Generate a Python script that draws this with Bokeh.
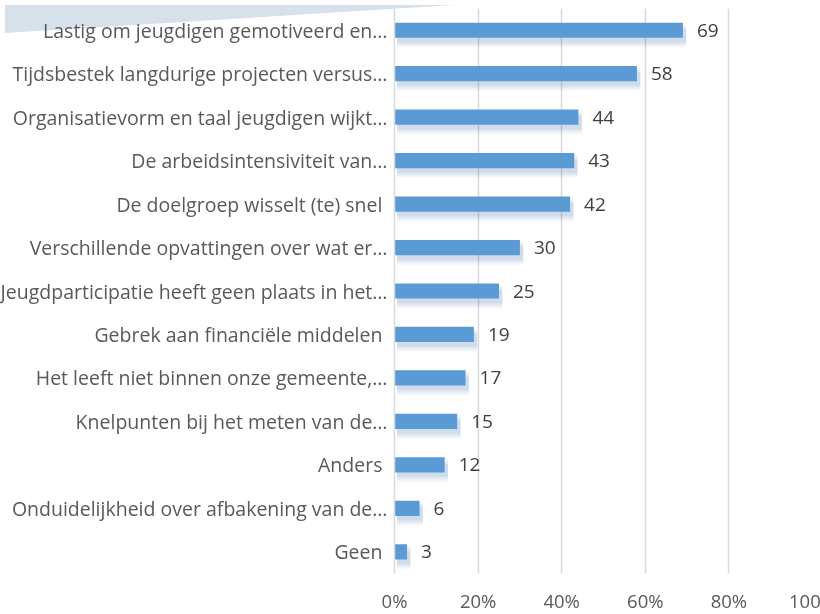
from bokeh.plotting import figure
from bokeh.models import FactorRange, Range1d, FixedTicker, LabelSet, ColumnDataSource, Div
from bokeh.core.properties import value
from bokeh.transform import dodge
from bokeh.embed import file_html
from bokeh.resources import INLINE

categories = [
    "Lastig om jeugdigen gemotiveerd en…",
    "Tijdsbestek langdurige projecten versus…",
    "Organisatievorm en taal jeugdigen wijkt…",
    "De arbeidsintensiviteit van…",
    "De doelgroep wisselt (te) snel\u00a0",
    "Verschillende opvattingen over wat er…",
    "Jeugdparticipatie heeft geen plaats in het…",
    "Gebrek aan financiële middelen\u00a0",
    "Het leeft niet binnen onze gemeente,…",
    "Knelpunten bij het meten van de…",
    "Anders\u00a0",
    "Onduidelijkheid over afbakening van de…",
    "Geen\u00a0",
]
values = [69, 58, 44, 43, 42, 30, 25, 19, 17, 15, 12, 6, 3]
tick_values = [0, 20, 40, 60, 80, 100]
tick_labels = ["0%", "20%", "40%", "60%", "80%", "100%"]

FONT = "Open Sans"
BAR = "#5b9bd5"

src = ColumnDataSource(dict(cat=categories, val=values,
                            lbl=[str(v) for v in values],
                            sh=[v + 0.8 for v in values]))

p = figure(width=916, height=622, output_backend="svg", toolbar_location=None,
           y_range=FactorRange(factors=categories[::-1]),
           x_range=Range1d(0, 100),
           min_border_left=470, min_border_right=28, min_border_top=8, min_border_bottom=49)
p.styles = {"position": "fixed", "left": "-76px", "top": "0px"}
p.outline_line_color = None
p.background_fill_color = "white"
p.border_fill_alpha = 0

# soft shadows under the bars
for h, a in [(0.54, 0.05), (0.46, 0.06), (0.38, 0.08), (0.30, 0.10)]:
    p.hbar(y=dodge("cat", -0.13, range=p.y_range), left=0.6, right="sh", height=h,
           source=src, fill_color="#4f7bb0", fill_alpha=a, line_color=None)

p.hbar(y="cat", left=0, right="val", height=0.35, source=src,
       fill_color=BAR, line_color=None)

p.add_layout(LabelSet(x="val", y="cat", text="lbl", source=src, x_offset=14,
                      text_baseline="middle", text_font=value(FONT), text_font_size="19px",
                      text_color="#404040"))

p.xaxis.ticker = FixedTicker(ticks=tick_values)
p.xaxis.major_label_overrides = {t: l for t, l in zip(tick_values, tick_labels)}
p.xaxis.axis_line_color = None
p.xaxis.major_tick_line_color = None
p.xaxis.minor_tick_line_color = None
p.xaxis.major_tick_out = 0
p.xaxis.major_label_standoff = 14
p.xaxis.major_label_text_font = FONT
p.xaxis.major_label_text_font_size = "18.5px"
p.xaxis.major_label_text_color = "#595959"

p.yaxis.axis_line_color = "#d9d9d9"
p.yaxis.axis_line_width = 1.5
p.yaxis.major_tick_line_color = None
p.yaxis.major_tick_out = 0
p.yaxis.major_label_standoff = 7
p.yaxis.major_label_text_font = FONT
p.yaxis.major_label_text_font_size = "19.5px"
p.yaxis.major_label_text_color = "#595959"

p.xgrid.grid_line_color = "#d9d9d9"
p.xgrid.grid_line_width = 1.5
p.xgrid.ticker = FixedTicker(ticks=tick_values)
p.ygrid.grid_line_color = None

# decorative band in the top-left corner of the slide
deco = Div(text="", width=450, height=28,
           styles={"position": "absolute", "top": "0px", "left": "0px",
                   "background": "#d6e1eb", "clip-path": "polygon(0 0, 100% 0, 0 100%)"})

open("out.html", "w").write(file_html([deco, p], INLINE))
